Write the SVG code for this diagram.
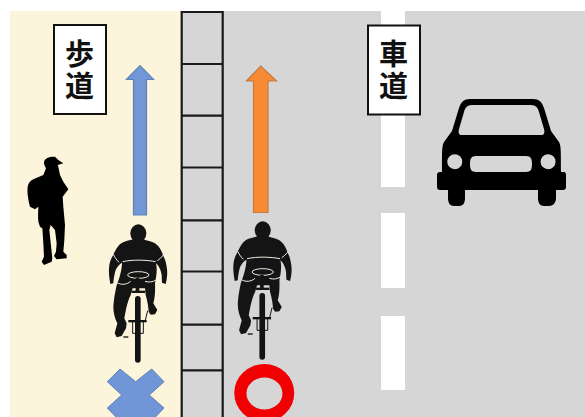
<svg xmlns="http://www.w3.org/2000/svg" width="585" height="417" viewBox="0 0 585 417">
<style>
.sign{fill:#fff;stroke:#111;stroke-width:2}
.t{font-family:"Noto Sans CJK JP","Noto Sans CJK SC",sans-serif;font-size:29px;font-weight:700;fill:#111;writing-mode:vertical-rl;letter-spacing:3px}
.curb{stroke:#1a1a1a;stroke-width:2.2;fill:none}
.dash{fill:#fff}
.k{fill:#141414}
.w{fill:none;stroke:#f2eee2;stroke-width:3}
.b{fill:none;stroke:#141414}
</style>
<defs>
<g id="cyclist" transform="translate(100 220) scale(.3333)">
<ellipse class="k" cx="115" cy="40" rx="24" ry="27"/>
<path class="k" d="M100 58C85 62 65 65 55 78C47 88 42 100 38 108C32 118 28 128 27 145C26 160 28 175 31 192L40 190C41 175 44 160 47 150C52 140 58 132 66 128C66 145 60 170 52 190C47 205 42 235 40 260C40 280 45 295 52 310L44 340L50 352L65 348L78 325L80 310L73 295C77 275 80 250 92 225L98 205H135L137 225C143 245 145 262 146 275L152 284L165 283L172 270L160 250C165 235 166 210 165 190C170 165 172 145 168 130C176 137 183 150 185 165L186 188L197 192C202 175 203 155 200 140C198 125 194 115 190 108C186 95 178 78 165 70C155 64 140 62 130 58Z"/>
<path class="w" d="M40 103C44 112 50 120 57 127M172 122C178 118 184 113 190 105M68 125C100 118 140 120 167 125M51 188C65 196 80 194 92 184M135 184C148 188 158 186 168 180"/>
<ellipse cx="115" cy="165" rx="32" ry="10" fill="#141414" stroke="#f2eee2" stroke-width="3"/>
<rect class="k" x="107" y="174" width="11" height="45"/>
<rect class="k" x="95" y="212" width="40" height="7"/>
<rect class="k" x="105" y="228" width="17" height="200" rx="8.500"/>
<rect class="k" x="85" y="300" width="55" height="7"/>
<path class="b" stroke-width="3" d="M98 305V340H130V305M135 305L143 272"/>
<path class="b" stroke-width="4" d="M70 351H85"/>
</g>
</defs>
<rect width="585" height="417" fill="#fff"/>
<rect x="10" y="11" width="171" height="406" fill="#fdf4dc"/>
<rect x="181" y="11" width="404" height="406" fill="#d6d6d6"/>
<g id="lane-marking">
<rect class="dash" x="381" y="11" width="24" height="176"/>
<rect class="dash" x="381" y="213" width="24" height="75"/>
<rect class="dash" x="381" y="316" width="24" height="74"/>
</g>
<g id="curb">
<path class="curb" d="M181.700 417V12H222.700V417M182 64H223M182 115.700H223M182 167.500H223M182 220.300H223M182 271.500H223M182 324.700H223M182 370.300H223"/>
</g>
<g id="connectors">
<path id="arrow-blue" d="M133.500 215V79.300H126.500L140 65.700L153.500 79.300H146.500V215Z" fill="#7297d6" stroke="#5f82bb" stroke-width="1.200"/>
<path id="arrow-orange" d="M253.500 212.500V81H246.500L260.700 66L276.500 81H268V212.500Z" fill="#f68b33" stroke="#c27b45" stroke-width="1.200"/>
</g>
<g id="sign-sidewalk">
<rect class="sign" x="54" y="25" width="52" height="89"/>
<text class="t" x="79.500" y="39">歩道</text>
</g>
<g id="sign-road">
<rect class="sign" x="368" y="25.500" width="52" height="89"/>
<text class="t" x="393.500" y="39">車道</text>
</g>
<g id="pedestrian">
<path transform="translate(20 150) scale(.3333)" fill="#000" d="M95 20C82 22 72 28 72 38C72 45 76 50 78 55L70 75L40 88C30 92 25 100 23 110C21 125 24 150 30 170L45 178L55 170C54 190 54 205 55 215L60 230L67 235L70 280L72 320L65 335L72 345L95 335L97 325L88 240L92 225L105 240L110 280L108 305L102 318L110 328L140 325L140 315L130 305L133 270L135 225L130 170L128 140L145 118L130 95L120 75L115 50L113 45L130 40L115 30L105 20Z"/>
</g>
<g id="cyclist-left"><use href="#cyclist"/></g>
<g id="cyclist-right"><use href="#cyclist" x="124.400" y="-3"/></g>
<g id="car">
<path fill-rule="evenodd" fill="#000" d="M470 99H533C539 99 542 102 544 108L551 131L559 142C561 146 561 150 561 172H564Q566 172 566 175V187Q566 190 563 190H556V198C556 203 553 206 549 206H544C540 206 538 203 538 198V190H465V198C465 203 463 206 459 206H454C450 206 448 203 448 198V190H440Q437 190 437 187V175Q437 172 440 172H442C442 150 442 146 444 142L452 131L459 108C461 102 464 99 470 99ZM472 105C467 105 465 108 464 112L459 129C458 133 459 135 462 135H541C544 135 545 133 544 129L539 112C538 108 536 105 531 105ZM476 156C471 156 470 159 470 164C470 169 471 172 476 172H526C531 172 532 169 532 164C532 159 531 156 526 156ZM454.700 154.200A7.500 7.500 0 1 0 454.800 169.200A7.500 7.500 0 1 0 454.700 154.200ZM548 154.200A7.500 7.500 0 1 0 548.100 169.200A7.500 7.500 0 1 0 548 154.200Z"/>
</g>
<g id="cross-mark">
<path d="M107.300 381.700L120 369L135.700 381.700L151.700 369L164 381.700L149.300 395L164 408L151.700 421H120L107.300 408L121.700 395Z" fill="#7096d8" stroke="#5f82bb" stroke-width="1"/>
</g>
<g id="circle-mark">
<path fill-rule="evenodd" fill="#f00000" d="M264.300 364A30 29 0 1 1 264.200 422A30 29 0 1 1 264.300 364ZM264.500 377.500A18 16 0 1 0 264.400 409.500A18 16 0 1 0 264.500 377.500Z"/>
</g>
</svg>
